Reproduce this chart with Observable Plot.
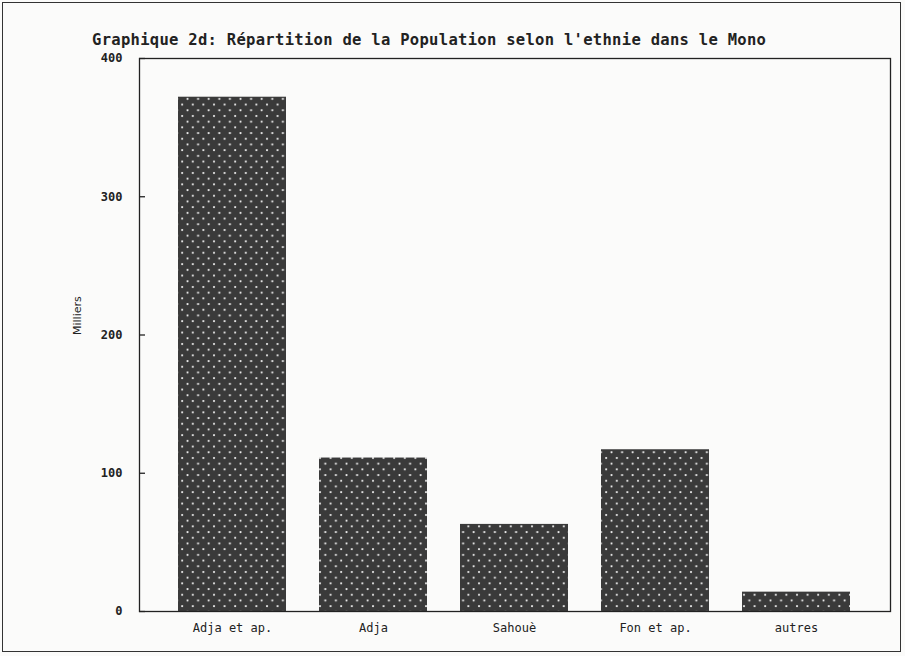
<!DOCTYPE html>
<html>
<head>
<meta charset="utf-8">
<script src="https://cdn.jsdelivr.net/npm/d3@7"></script>
<script src="https://cdn.jsdelivr.net/npm/@observablehq/plot@0.6"></script>
<style>
  html, body { margin: 0; padding: 0; background: #fbfbfa; }
  #wrap { position: relative; width: 905px; height: 656px; overflow: hidden; }
  #border { position: absolute; left: 2px; top: 2px; width: 899px; height: 650px; border: 1.5px solid #333; box-sizing: border-box; pointer-events: none; }
  #title { position: absolute; left: 92px; top: 31px; font-family: "DejaVu Sans Mono", monospace; font-size: 15.5px; font-weight: 600; color: #222; white-space: nowrap; letter-spacing: 0.3px; }
  #chart { position: absolute; left: 0; top: 0; }
</style>
</head>
<body>
<div id="wrap">
  <div id="chart"></div>
  <div id="title">Graphique 2d: Répartition de la Population selon l'ethnie dans le Mono</div>
  <div id="border"></div>
</div>
<script>
const categories = ["Adja et ap.", "Adja", "Sahouè", "Fon et ap.", "autres"];
const values = [372, 111, 63, 117, 14];
const yTicks = [0, 100, 200, 300, 400];
const yLabel = "Milliers";

const data = categories.map((c, i) => ({category: c, value: values[i]}));

const mono = "'DejaVu Sans Mono', monospace";
const chart = Plot.plot({
  width: 905,
  height: 656,
  marginLeft: 139,
  marginRight: 15,
  marginTop: 58,
  marginBottom: 45,
  style: {background: "transparent", fontFamily: mono, fontSize: "12px", color: "#222"},
  x: {domain: categories, paddingInner: 0.234, paddingOuter: 0.277},
  y: {domain: [0, 400]},
  marks: [
    Plot.barY(data, {x: "category", y: "value", fill: "#3b3b3b"}),
    Plot.frame({stroke: "#222", strokeWidth: 1.3}),
    Plot.axisX({tickSize: 0, tickPadding: 12, label: null, fontSize: 12, fontFamily: mono}),
    Plot.axisY({ticks: yTicks, tickSize: -6, tickPadding: 23, label: null, fontSize: 12, fontFamily: mono, fontWeight: "bold", strokeWidth: 1.3}),
    Plot.text([yLabel], {frameAnchor: "left", dx: -62, rotate: -90, fontSize: 11, fontFamily: "'DejaVu Sans', sans-serif", text: d => d})
  ]
});

// dotted pattern fill for bars
const svg = d3.select(chart);
const defs = svg.insert("defs", ":first-child");
const pat = defs.append("pattern")
  .attr("id", "dots").attr("patternUnits", "userSpaceOnUse")
  .attr("width", 10.6).attr("height", 11.4);
pat.append("rect").attr("width", 10.6).attr("height", 11.4).attr("fill", "#3a3a3a");
pat.append("circle").attr("cx", 2).attr("cy", 2).attr("r", 1.1).attr("fill", "#f2f2f2");
pat.append("circle").attr("cx", 7.3).attr("cy", 7.7).attr("r", 1.1).attr("fill", "#f2f2f2");
svg.selectAll("g[aria-label='bar']").attr("fill", "url(#dots)");
svg.selectAll("g[aria-label='bar'] rect").attr("fill", "url(#dots)");

document.getElementById("chart").appendChild(chart);
</script>
</body>
</html>
